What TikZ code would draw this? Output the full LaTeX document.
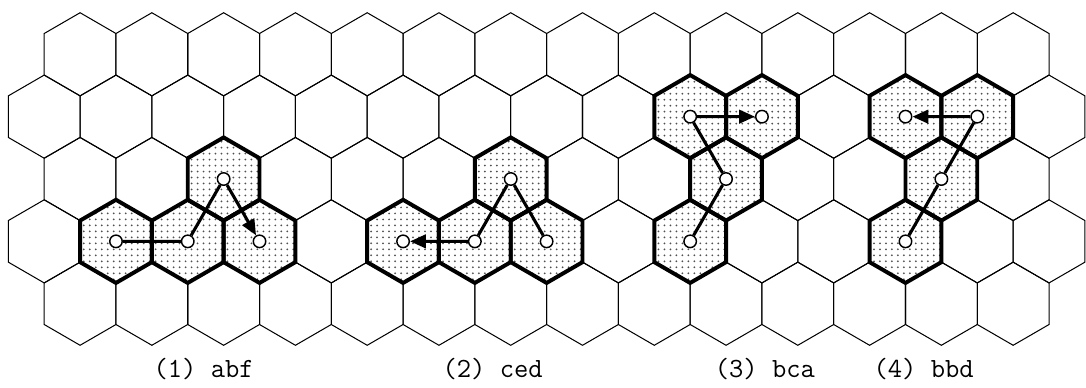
\documentclass[tikz,border=0pt]{standalone}
\usepackage{fontspec}
\usepackage{tikz}
\usetikzlibrary{arrows.meta,patterns.meta}
\definecolor{HexInk}{HTML}{000000}
\definecolor{DotGray}{HTML}{505050}

\tikzset{
  gridline/.style={line width=0.7pt, HexInk},
  cellshade/.style={line width=2.7pt, HexInk,
    pattern={Dots[distance=0.144cm, radius=0.024cm]}, pattern color=DotGray},
  site/.style={circle, draw=HexInk, line width=1pt, fill=white,
    inner sep=0pt, minimum size=0.3cm},
  walk/.style={line width=2.1pt, HexInk, -{Triangle[length=0.38cm, width=0.32cm]}},
  caption/.style={font=\ttfamily\fontsize{19}{22}\selectfont, anchor=base},
}
% hexagon round the current point, in grid units
\newcommand{\hexpath}{+(0,-0.6667) -- +(1,-0.3333) -- +(1,0.3333) -- +(0,0.6667)
  -- +(-1,0.3333) -- +(-1,-0.3333) -- cycle}

\begin{document}
\begin{tikzpicture}[x=1cm, y=1cm]
  \useasboundingbox (0,0) rectangle (26.125,-9.31);

  \begin{scope}[shift={(0.2cm,-1.306cm)}, x=0.8633cm, y=-1.5cm]
    % background grid
    \foreach \r in {0,2,4}
      \foreach \m in {2,4,...,28}
        \draw[gridline] (\m,\r) \hexpath;
    \foreach \r in {1,3}
      \foreach \m in {1,3,...,29}
        \draw[gridline] (\m,\r) \hexpath;

    % occupied cells with their sites
    \foreach \m/\r/\n in {3/3/A1, 5/3/A2, 6/2/A3, 7/3/A4,
                          15/3/B1, 14/2/B2, 13/3/B3, 11/3/B4,
                          19/3/C1, 20/2/C2, 19/1/C3, 21/1/C4,
                          25/3/D1, 26/2/D2, 27/1/D3, 25/1/D4}
    {
      \draw[cellshade] (\m,\r) \hexpath;
      \node[site] (\n) at (\m,\r) {};
    }
  \end{scope}

  % walks, arrow on the last step
  \draw[walk] (A1) -- (A2) -- (A3) -- (A4);
  \draw[walk] (B1) -- (B2) -- (B3) -- (B4);
  \draw[walk] (C1) -- (C2) -- (C3) -- (C4);
  \draw[walk] (D1) -- (D2) -- (D3) -- (D4);

  % captions
  \node[caption] (cap1) at (4.90,-9.07)  {(1) abf};
  \node[caption] (cap2) at (11.85,-9.07) {(2) ced};
  \node[caption] (cap3) at (18.40,-9.07) {(3) bca};
  \node[caption] (cap4) at (22.22,-9.07) {(4) bbd};
\end{tikzpicture}
\end{document}
